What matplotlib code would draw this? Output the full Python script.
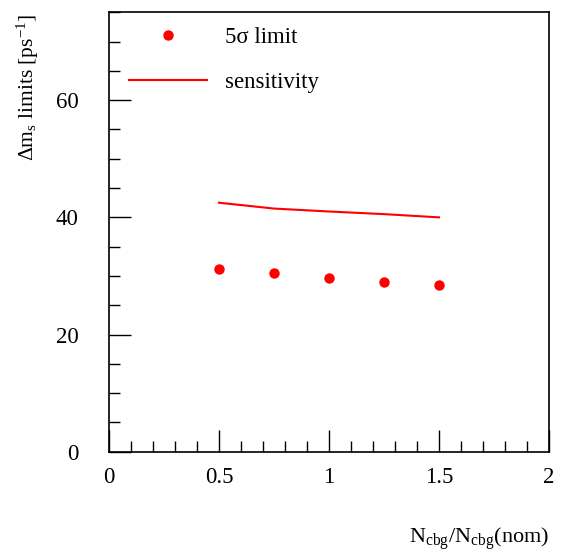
import matplotlib
matplotlib.use("Agg")
import matplotlib.pyplot as plt
from matplotlib.ticker import MultipleLocator

plt.rcParams['font.family'] = ['Liberation Serif', 'DejaVu Serif']
plt.rcParams['mathtext.fontset'] = 'custom'
plt.rcParams['mathtext.rm'] = 'Liberation Serif'
plt.rcParams['mathtext.it'] = 'Liberation Serif:italic'

# data
ratio = [0.5, 0.75, 1.0, 1.25, 1.5]
limit5sigma = [31.1, 30.5, 29.6, 29.05, 28.5]
sensitivity = [42.5, 41.5, 41.0, 40.55, 40.0]
xtick_vals = [0, 0.5, 1, 1.5, 2]
xtick_labels = ['0', '0.5', '1', '1.5', '2']
ytick_vals = [0, 20, 40, 60]
ytick_labels = ['0', '20', '40', '60']

FS = 16.5
fig = plt.figure(figsize=(5.63, 5.49), dpi=100)
ax = fig.add_axes([109/563, (549-451.7)/549, 440/563, 439.4/549])

ax.plot(ratio, limit5sigma, 'o', color='#ff0000', markersize=7.5, markeredgewidth=0, label='5σ limit')
ax.plot(ratio, sensitivity, '-', color='#ff0000', linewidth=1.5, label='sensitivity')

ax.set_xlim(0, 2)
ax.set_ylim(0, 75)
ax.xaxis.set_minor_locator(MultipleLocator(0.1))
ax.yaxis.set_minor_locator(MultipleLocator(5))
ax.set_xticks(xtick_vals)
ax.set_xticklabels(xtick_labels)
ax.set_yticks(ytick_vals)
ax.set_yticklabels(ytick_labels)
ax.tick_params(which='both', direction='in', labelsize=FS, width=1.0, colors='black')
ax.tick_params(axis='x', which='major', length=16, pad=11)
ax.tick_params(axis='x', which='minor', length=8)
ax.tick_params(axis='y', which='major', length=16, pad=22)
ax.tick_params(axis='y', which='minor', length=8)
for s in ax.spines.values():
    s.set_linewidth(1.2)

leg = ax.legend(loc='upper left', bbox_to_anchor=(20/440, (451.7-27)/439.4), frameon=False,
                fontsize=FS, handlelength=3.4, handletextpad=0.8, labelspacing=1.05,
                borderpad=0, borderaxespad=0, markerscale=1.0)

fig.text(27.5/563, (549-14)/549, 'Δm$_\\mathrm{s}$ limits [ps$^{\\mathrm{-1}}$]',
         rotation=90, ha='center', va='top', fontsize=15.5)
fig.text(549/563, (549-543)/549, r'N$_\mathrm{cbg}$/N$_\mathrm{cbg}$(nom)',
         ha='right', va='baseline', fontsize=16)

fig.savefig('out.png', dpi=100)
